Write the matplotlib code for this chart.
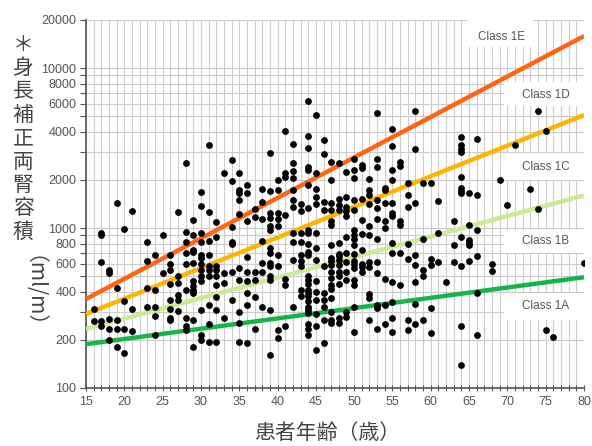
import matplotlib
matplotlib.use("Agg")
import matplotlib.pyplot as plt
from matplotlib.patches import Rectangle
from matplotlib.ticker import FixedLocator, NullFormatter
import numpy as np

plt.rcParams["font.family"] = ["Liberation Sans", "DejaVu Sans"]
CJK = ["Noto Sans CJK JP", "DejaVu Sans"]

# ── Data: height-adjusted total kidney volume by age ─────────────────────────

ages = [16, 17, 18, 19, 20, 21, 23, 24, 25, 26, 27, 28, 29, 30, 31, 32, 33,
        34, 35, 36, 37, 38, 39, 40, 41, 42, 43, 44, 45, 46, 47, 48, 49, 50,
        51, 52, 53, 54, 55, 56, 57, 58, 59, 60, 61, 62, 63, 64, 65, 66, 68,
        69, 70, 71, 73, 74, 75, 76, 80]

volumes = [
    [310, 262],
    [930, 900, 610, 262, 245],
    [546, 520, 270, 233, 200],
    [1430, 420, 268, 233, 180],
    [990, 350, 235, 165],
    [1270, 310, 228],
    [820, 620, 420, 322],
    [680, 410, 320, 280, 213],
    [900, 520],
    [680, 600, 546, 450, 355, 312, 275, 266],
    [1260, 500, 455, 380, 355, 305],
    [2540, 950, 815, 700, 600, 410, 275, 245, 230],
    [1120, 900, 730, 710, 605, 465, 435, 410, 390, 266, 180],
    [1690, 1380, 930, 820, 680, 650, 600, 550, 500, 465, 307, 215, 200],
    [3300, 1260, 830, 680, 580, 546, 500, 330, 250, 195],
    [1090, 880, 580, 546, 500, 440, 370, 307, 195],
    [2220, 525, 455, 275],
    [2660, 1980, 1010, 820, 790, 530, 355],
    [2220, 1730, 1650, 1500, 1230, 560, 473, 300, 255, 195],
    [1850, 1650, 1100, 660, 530, 465, 395, 330, 190],
    [1320, 1180, 530, 473, 370, 235],
    [1750, 1450, 1140, 830, 605, 530, 320],
    [2950, 1700, 1240, 1160, 1030, 970, 750, 700, 605, 580, 500, 473, 307, 160],
    [2000, 1730, 1240, 1140, 1030, 680, 580, 230, 205],
    [4060, 2200, 2080, 1200, 482, 440, 245],
    [3350, 2560, 2280, 2050, 1730, 1500, 1360, 930, 820, 630, 320],
    [1420, 1280, 930, 820, 680, 620, 580, 410, 375],
    [6200, 3750, 3150, 2400, 2300, 1850, 1330, 970, 930, 790, 710, 680, 500,
     473, 445, 410, 395, 375, 350, 320, 307, 295, 250, 235, 215],
    [5100, 2200, 1760, 1570, 1420, 930, 750, 630, 465, 400, 355, 290, 245, 173],
    [3550, 2900, 1450, 1300, 580, 395, 355, 320, 266, 190],
    [2600, 2000, 1440, 1300, 1100, 1050, 780, 650, 625, 590, 530, 485, 440,
     415, 365, 300, 266, 255],
    [2550, 1530, 1400, 1300, 810, 690, 670, 630, 590, 530, 505, 445, 275, 255],
    [2250, 1560, 1360, 1280, 1190, 880, 700, 610, 535, 473, 300, 278],
    [2720, 2300, 2070, 1500, 1290, 970, 900, 860, 780, 690, 625, 600, 560,
     473, 440, 320, 225],
    [2480, 2370, 1530, 1120, 920, 730, 600, 570, 530],
    [2030, 1730, 1600, 1420, 1030, 900, 610, 575, 385, 365, 266],
    [5250, 2720, 2400, 1500, 1330, 1140, 860, 610, 520, 330, 315, 235],
    [1780, 1730, 1440, 1100, 1000, 480, 330, 250],
    [4180, 3250, 2300, 2000, 1440, 1250, 1190, 810, 700, 460, 345, 275, 225],
    [2600, 2450, 1100, 1050, 700, 440],
    [1900, 1600, 1350, 800, 640, 266, 232],
    [5400, 3100, 1440, 680, 585, 460, 335, 250],
    [1900, 860, 546, 505, 266],
    [1900, 640, 590, 315, 220],
    [1480, 930, 610],
    [460],
    [1100, 780, 610],
    [3700, 3300, 3100, 3000, 2100, 1770, 1700, 1650, 880, 580, 245, 140],
    [1650, 1040, 840, 810, 780, 625],
    [3600, 1620, 970, 670, 395, 215],
    [600, 540],
    [2000],
    [1400],
    [3300],
    [1750],
    [5400, 1320],
    [4070, 230],
    [208],
    [605],
]

# Class boundary lines (value at age 15 and at age 80)
boundary_names = ["1A/1B", "1B/1C", "1C/1D", "1D/1E"]
boundary_at_15 = [188, 234, 290, 360]
boundary_at_80 = [493, 1600, 5090, 15870]
boundary_colors = ["#16b54a", "#c9eb92", "#ffb400", "#ff6511"]

class_labels = ["Class 1E", "Class 1D", "Class 1C", "Class 1B", "Class 1A"]
label_age = [69.2, 75.0, 75.0, 75.0, 75.0]
label_volume = [15600, 6780, 2400, 830, 325]
# white backing boxes: (age from, age to, volume low, volume high)
box_age_from = [64.9, 69.5, 69.5, 69.5, 69.5]
box_age_to = [73.3, 80.0, 80.0, 80.0, 80.0]
box_vol_low = [13500, 5790, 2000, 698, 266]
box_vol_high = [20000, 8170, 2940, 970, 393]

y_major = [100, 200, 400, 600, 800, 1000, 2000, 4000, 6000, 8000, 10000, 20000]
y_minor = [300, 500, 700, 900, 3000, 5000, 7000, 9000]

# ── Figure ───────────────────────────────────────────────────────────────────

W, H = 592, 446
fig = plt.figure(figsize=(W / 100, H / 100), dpi=100)
ax = fig.add_axes([86 / W, 1 - 388 / H, (584 - 86) / W, (388 - 20) / H])
ax.set_yscale("log")
ax.set_xlim(15, 80)
ax.set_ylim(100, 20000)
ax.set_axisbelow(True)

ax.xaxis.set_major_locator(FixedLocator(np.arange(15, 81, 5)))
ax.xaxis.set_minor_locator(FixedLocator(np.arange(15, 81, 1)))
ax.yaxis.set_major_locator(FixedLocator(y_major))
ax.yaxis.set_minor_locator(FixedLocator(y_minor))
ax.yaxis.set_minor_formatter(NullFormatter())
ax.set_yticklabels([str(v) for v in y_major])

ax.grid(which="both", color="#cccccc", linewidth=0.8)
ax.tick_params(axis="x", which="both", direction="inout", length=4, width=0.8,
               colors="#555555", labelsize=9, pad=4)
ax.tick_params(axis="y", which="both", direction="out", length=4, width=0.8,
               colors="#555555", labelsize=9, pad=3)
for side in ("top", "right"):
    ax.spines[side].set_visible(False)
for side in ("left", "bottom"):
    ax.spines[side].set_color("#555555")
    ax.spines[side].set_linewidth(1.2)

for a0, a1, lo, hi in zip(box_age_from, box_age_to, box_vol_low, box_vol_high):
    ax.add_patch(Rectangle((a0, lo), a1 - a0, hi - lo, facecolor="white",
                           edgecolor="none", zorder=1.5))
for name, x, y in zip(class_labels, label_age, label_volume):
    ax.text(x, y, name, ha="center", va="center", fontsize=8.5,
            color="#555555", zorder=2)

for v15, v80, col in zip(boundary_at_15, boundary_at_80, boundary_colors):
    ax.plot([15, 80], [v15, v80], color=col, linewidth=3.2,
            solid_capstyle="butt", zorder=3)

x_pts = np.repeat(ages, [len(v) for v in volumes])
y_pts = np.concatenate(volumes)
ax.scatter(x_pts, y_pts, s=24, color="black", linewidths=0, zorder=4)

# vertical y-axis title: stacked upright kanji, rotated unit
ylabel_chars = ["＊", "身", "長", "補", "正", "両", "腎", "容", "積"]
for i, ch in enumerate(ylabel_chars):
    fig.text(23 / W, 1 - (45 + 23.3 * i) / H, ch, family=CJK, fontsize=15,
             color="#444444", ha="center", va="center")
fig.text(23 / W, 1 - 302 / H, "（ml/m）", family=CJK, fontsize=15,
         color="#444444", ha="center", va="center", rotation=-90)

fig.text(327 / W, 1 - 433 / H, "患者年齢（歳）", family=CJK, fontsize=15,
         color="#444444", ha="center", va="center")

fig.savefig("out.png", dpi=100)
